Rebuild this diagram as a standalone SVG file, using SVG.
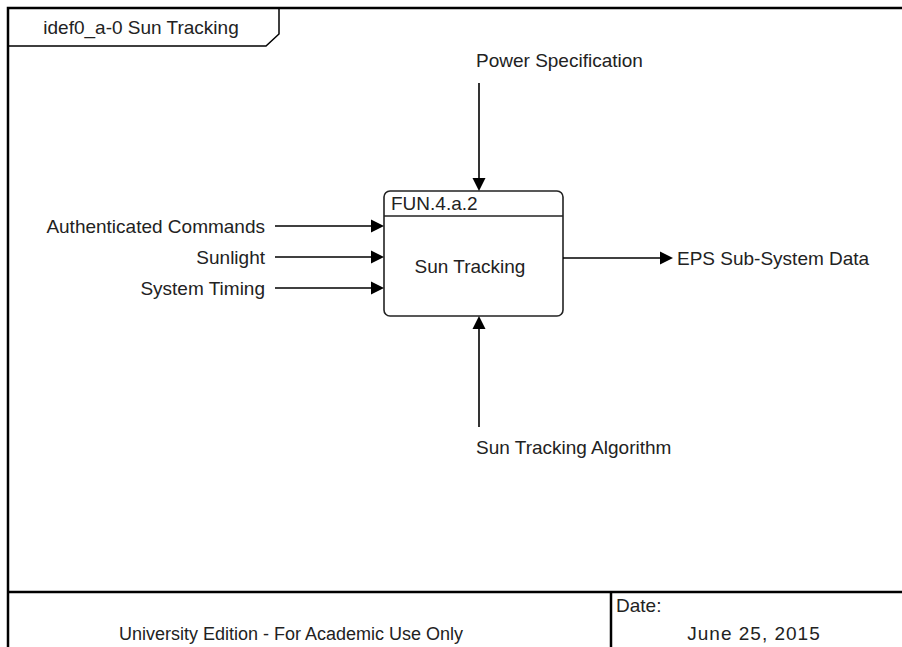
<svg xmlns="http://www.w3.org/2000/svg" width="902" height="647" viewBox="0 0 902 647">
<style>
text{font-family:"Liberation Sans",Arial,sans-serif;font-size:19px;fill:#222}
.frame{stroke:#000;stroke-width:2.5;fill:none}
.thin{stroke:#000;stroke-width:1.5;fill:none}
.arr{stroke:#000;stroke-width:1.6;fill:none}
.head{fill:#000;stroke:none}
</style>
<rect width="902" height="647" fill="#fff"/>
<g id="frame">
<path class="frame" d="M8 647 V8 H902"/>
<path class="frame" d="M8 592 H902"/>
<path class="frame" d="M611 592 V647"/>
<path class="thin" d="M8 46 H266 L279 34 V8"/>
<text x="141" y="34" text-anchor="middle">idef0_a-0 Sun Tracking</text>
<text x="616" y="612">Date:</text>
<text x="754" y="640" text-anchor="middle" letter-spacing="1">June 25, 2015</text>
<text x="291" y="640" text-anchor="middle" style="font-size:18px">University Edition - For Academic Use Only</text>
</g>
<g id="node-sun-tracking">
<rect x="384" y="191" width="179" height="125" rx="6" ry="6" fill="#fff" stroke="#222" stroke-width="1.6"/>
<line x1="384" y1="216" x2="563" y2="216" stroke="#222" stroke-width="1.6"/>
<text x="391" y="210">FUN.4.a.2</text>
<text x="470" y="273" text-anchor="middle">Sun Tracking</text>
</g>
<g id="connectors">
<g id="c-power">
<line class="arr" x1="479" y1="83" x2="479" y2="180"/>
<path class="head" d="M472.5 178 L485.5 178 L479 191 Z"/>
<text x="476" y="67">Power Specification</text>
</g>
<g id="c-algorithm">
<line class="arr" x1="479" y1="427" x2="479" y2="327"/>
<path class="head" d="M472.5 329 L485.5 329 L479 316 Z"/>
<text x="476" y="454">Sun Tracking Algorithm</text>
</g>
<g id="c-auth">
<line class="arr" x1="275" y1="226" x2="373" y2="226"/>
<path class="head" d="M371 219.5 L371 232.5 L384 226 Z"/>
<text x="265" y="233" text-anchor="end">Authenticated Commands</text>
</g>
<g id="c-sunlight">
<line class="arr" x1="275" y1="257" x2="373" y2="257"/>
<path class="head" d="M371 250.5 L371 263.5 L384 257 Z"/>
<text x="265" y="264" text-anchor="end">Sunlight</text>
</g>
<g id="c-timing">
<line class="arr" x1="275" y1="288" x2="373" y2="288"/>
<path class="head" d="M371 281.5 L371 294.5 L384 288 Z"/>
<text x="265" y="295" text-anchor="end">System Timing</text>
</g>
<g id="c-eps">
<line class="arr" x1="563" y1="258" x2="662" y2="258"/>
<path class="head" d="M660 251.5 L660 264.5 L673 258 Z"/>
<text x="677" y="265">EPS Sub-System Data</text>
</g>
</g>
</svg>
